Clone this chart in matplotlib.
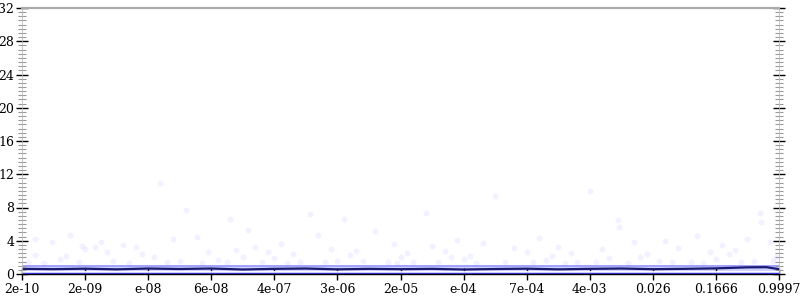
import numpy as np
import matplotlib
matplotlib.use("Agg")
import matplotlib.pyplot as plt
from matplotlib.ticker import MultipleLocator

# ---- data ----
x_tick_labels = ['2e-10', '2e-09', 'e-08', '6e-08', '4e-07', '3e-06', '2e-05',
                 'e-04', '7e-04', '4e-03', '0.026', '0.1666', '0.9997']

# median line sampled every half tick (x in tick units 0..12)
median_x = [0.0, 0.5, 1.0, 1.5, 2.0, 2.5, 3.0, 3.5, 4.0, 4.5, 5.0, 5.5, 6.0,
            6.5, 7.0, 7.5, 8.0, 8.5, 9.0, 9.5, 10.0, 10.5, 11.0, 11.5, 11.8, 12.0]
median_y = [0.62, 0.58, 0.64, 0.56, 0.66, 0.60, 0.66, 0.54, 0.62, 0.66, 0.56, 0.62,
            0.58, 0.62, 0.54, 0.60, 0.64, 0.56, 0.62, 0.66, 0.58, 0.62, 0.68, 0.80,
            0.82, 0.58]

band_top = 1.1
dense_low = 0.8
white_level = 0.3
base_level = 0.06

# scattered faint outliers (x in tick units, y in value)
out_x = [0.21, 0.20, 0.48, 0.76, 0.95, 1.0, 1.15, 1.25, 1.35, 1.6, 1.8, 2.19, 2.4, 2.6,
         2.78, 2.95, 3.3, 3.4, 3.58, 3.7, 3.9, 4.1, 4.3, 4.56, 4.7, 4.9, 5.1, 5.3,
         5.6, 5.9, 6.1, 6.4, 6.5, 6.7, 6.9, 7.1, 7.3, 7.5, 7.8, 8.0, 8.2, 8.5, 8.7,
         9.0, 9.2, 9.44, 9.46, 9.7, 9.9, 10.2, 10.4, 10.7, 10.9, 11.1, 11.3, 11.5,
         11.7, 11.72, 11.85, 0.6, 1.45, 2.1, 3.1, 4.0, 5.0, 6.0, 7.0, 8.3, 9.3, 10.1,
         11.0, 0.1, 2.3, 4.4, 6.2, 8.8, 10.6, 11.9, 3.8, 5.8,
         0.35, 0.9, 1.7, 2.5, 2.85, 3.25, 4.2, 4.8, 5.4, 5.95, 6.6, 7.2, 7.65,
         8.1, 8.6, 9.1, 9.6, 10.3, 10.8, 11.4, 11.6, 0.7, 1.9, 3.5, 5.2, 6.8,
         8.4, 9.8, 11.2, 11.95]
out_y = [2.3, 4.2, 3.8, 4.7, 3.4, 3.0, 3.3, 3.9, 2.7, 3.5, 3.3, 11.0, 4.2, 7.7,
         4.5, 2.6, 6.6, 2.9, 5.3, 3.2, 2.6, 3.6, 2.4, 7.2, 4.7, 3.0, 6.6, 2.8,
         5.2, 3.6, 2.5, 7.3, 3.4, 2.8, 4.1, 2.2, 3.7, 9.4, 3.1, 2.6, 4.3, 3.3, 2.5,
         10.0, 3.0, 6.5, 5.7, 3.8, 2.4, 4.0, 3.1, 4.6, 2.7, 3.5, 2.9, 4.2,
         7.3, 6.2, 3.9, 1.8, 1.6, 2.0, 1.7, 1.9, 1.6, 2.0, 1.8, 1.7, 1.9, 1.6,
         1.8, 1.5, 1.4, 1.5, 1.4, 1.5, 1.4, 1.6, 1.4, 1.5,
         1.3, 1.5, 1.3, 1.6, 1.3, 1.5, 1.3, 1.4, 1.6, 1.3, 1.5, 1.3, 1.4,
         1.5, 1.3, 1.4, 1.3, 1.5, 1.3, 1.4, 1.6, 2.2, 2.4, 2.1, 2.3, 2.0,
         2.2, 2.1, 2.4, 2.0]

# ---- figure ----
fig = plt.figure(figsize=(8, 3), dpi=100)
ax = fig.add_axes([22/800, 26/300, 757/800, 266/300])
plt.rcParams['font.family'] = ['DejaVu Serif']

xs = np.array(median_x)
ax.fill_between(xs, 0, band_top, color=(0.58, 0.58, 1.0), alpha=0.45, lw=0)
ax.fill_between(xs, dense_low, band_top, color=(0.38, 0.38, 1.0), alpha=0.4, lw=0)
ax.plot([xs[0], xs[-1]], [white_level, white_level], color='white', lw=1.6, alpha=0.9)
ax.plot([xs[0], xs[-1]], [base_level, base_level], color=(0.25, 0.25, 1.0), lw=2.5)
ax.scatter(out_x, out_y, s=18, color=(0.35, 0.35, 1.0), alpha=0.08, lw=0)
ax.plot(median_x, median_y, color=(0.1, 0.1, 0.45), lw=1.6)

ax.set_xlim(0, 12)
ax.set_ylim(0, 32)
ax.set_xticks(range(len(x_tick_labels)))
ax.set_xticklabels(x_tick_labels, fontsize=9, family='DejaVu Serif')
ax.yaxis.set_major_locator(MultipleLocator(4))
ax.yaxis.set_minor_locator(MultipleLocator(0.5))
for lab in ax.get_yticklabels():
    lab.set_family('DejaVu Serif')
    lab.set_fontsize(9)

ax.tick_params(axis='y', which='major', direction='inout', length=9, width=1,
               color='black', left=True, right=True, pad=1)
ax.tick_params(axis='y', which='minor', direction='inout', length=6, width=0.8,
               color='#999999', left=True, right=True)
ax.tick_params(axis='x', which='major', direction='inout', length=9, width=1,
               color='black', pad=2)

ax.spines['top'].set_color('#aaaaaa')
ax.spines['top'].set_linewidth(1.6)
ax.spines['left'].set_color('#bbbbbb')
ax.spines['right'].set_color('#bbbbbb')
ax.spines['left'].set_linewidth(0.6)
ax.spines['right'].set_linewidth(0.6)
ax.spines['bottom'].set_color('black')
ax.spines['bottom'].set_linewidth(1.0)

fig.savefig('out.png', dpi=100)
